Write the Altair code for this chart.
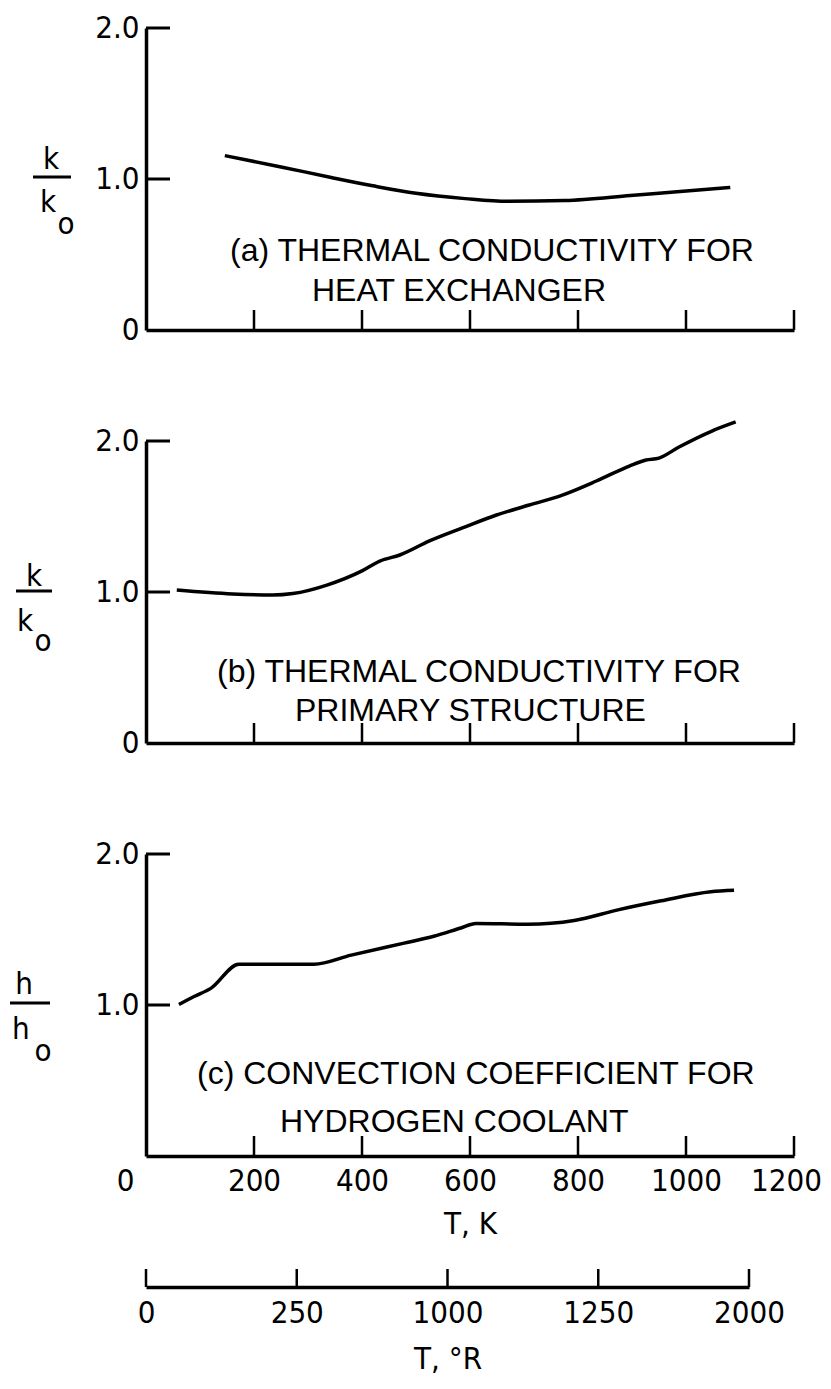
import altair as alt
import pandas as pd

# ---------------- data ----------------
a_T = [146, 250, 343, 420, 500, 591, 670, 775, 897, 989, 1082]
a_v = [1.155, 1.08, 1.01, 0.955, 0.905, 0.87, 0.852, 0.857, 0.89, 0.918, 0.944]

b_T = [57, 160, 235, 272, 335, 400, 433, 470, 525, 586, 649, 710, 771, 834,
       895, 926, 950, 987, 1048, 1092]
b_v = [1.013, 0.987, 0.98, 0.99, 1.046, 1.14, 1.205, 1.245, 1.338, 1.424, 1.51,
       1.576, 1.642, 1.735, 1.834, 1.874, 1.887, 1.96, 2.066, 2.126]

c_T = [61, 89, 120, 172, 311, 380, 478, 533, 583, 611, 707, 793, 874, 954, 1046, 1089]
c_v = [1.003, 1.056, 1.11, 1.27, 1.27, 1.33, 1.41, 1.455, 1.51, 1.54, 1.535, 1.56,
       1.63, 1.69, 1.75, 1.76]

k_ticks = [0, 200, 400, 600, 800, 1000, 1200]
y_ticks = [0, 1.0, 2.0]
r_ticks = [0, 500, 1000, 1500, 2000]
r_tick_labels = ["0", "250", "1000", "1250", "2000"]

a_lines = ["(a) THERMAL CONDUCTIVITY FOR", "HEAT EXCHANGER"]
b_lines = ["(b) THERMAL CONDUCTIVITY FOR", "PRIMARY STRUCTURE"]
c_lines = ["(c) CONVECTION COEFFICIENT FOR", "HYDROGEN COOLANT"]

# ---------------- styling ----------------
FONT = "DejaVu Sans Condensed, DejaVu Sans, sans-serif"
TFONT = "Liberation Sans, Arial, sans-serif"
LFS = 31
W, H = 648, 302
TICK = 20


def one(text):
    return pd.DataFrame({"txt": [text]})


def panel(T, v, lines, line_pos, frac, show_x, y_vals):
    xaxis_kw = dict(values=k_ticks, ticks=False, tickSize=0, domain=True,
                    labels=show_x, labelFlush=False, labelOverlap=False, format="d")
    if show_x:
        xaxis_kw.update(title="T, K", labelPadding=10, titlePadding=13,
                        labelOffset={"condition": [
                            {"test": "datum.value === 0", "value": -21},
                            {"test": "datum.value === 1200", "value": -8}],
                            "value": 0})
    else:
        xaxis_kw.update(title="")
    X = alt.X("T:Q", scale=alt.Scale(domain=[0, 1200], nice=False, zero=False),
              axis=alt.Axis(**xaxis_kw))
    Y = alt.Y("v:Q", scale=alt.Scale(domain=[0, 2], nice=False),
              axis=alt.Axis(values=y_vals, ticks=False, tickSize=0, title="",
                            labelPadding=7, labelFlush=False, labelOverlap=False,
                            labelExpr="datum.value === 0 ? '0' : format(datum.value, '.1f')"))

    df = pd.DataFrame({"T": T, "v": v})
    line = alt.Chart(df).mark_line(color="black", strokeWidth=3.5,
                                   interpolate="monotone").encode(x=X, y=Y)
    yt = alt.Chart(pd.DataFrame({"v": [1.0, 2.0]})).mark_rule(
        color="black", strokeWidth=3).encode(y=Y, x=alt.value(0), x2=alt.value(24))
    xt = alt.Chart(pd.DataFrame({"T": k_ticks[1:]})).mark_rule(
        color="black", strokeWidth=2.5).encode(x=X, y=alt.value(H), y2=alt.value(H - TICK))

    layers = [line, yt, xt]
    for text, (px, py) in zip(lines, line_pos):
        layers.append(alt.Chart(one(text)).mark_text(
            align="left", baseline="alphabetic", font=TFONT, fontSize=32,
            color="black").encode(text="txt:N", x=alt.value(px), y=alt.value(py)))

    letter, (nx, ny), (bx1, bx2, by), (dx, dy), (ox, oy) = frac
    layers.append(alt.Chart(one(letter)).mark_text(
        align="center", baseline="alphabetic", font=FONT, fontSize=31,
        color="black").encode(text="txt:N", x=alt.value(nx), y=alt.value(ny)))
    layers.append(alt.Chart(one(letter)).mark_rule(color="black", strokeWidth=3).encode(
        x=alt.value(bx1), x2=alt.value(bx2), y=alt.value(by)))
    layers.append(alt.Chart(one(letter)).mark_text(
        align="left", baseline="alphabetic", font=FONT, fontSize=31,
        color="black").encode(text="txt:N", x=alt.value(dx), y=alt.value(dy)))
    layers.append(alt.Chart(one("o")).mark_text(
        align="center", baseline="alphabetic", font=FONT, fontSize=31,
        color="black").encode(text="txt:N", x=alt.value(ox), y=alt.value(oy)))

    return alt.layer(*layers).properties(width=W, height=H)


pa = panel(a_T, a_v, a_lines, [(84, 233), (166, 273)],
           ("k", (-95, 141), (-113, -75, 149), (-106, 184), (-80, 206)),
           False, y_ticks)
pb = panel(b_T, b_v, b_lines, [(71, 241), (149, 280)],
           ("k", (-112, 145), (-130, -94, 150), (-129, 190), (-103, 210)),
           False, y_ticks)
pc = panel(c_T, c_v, c_lines, [(51, 230), (134, 278)],
           ("h", (-122, 140), (-136, -96, 149), (-134, 185), (-103, 207)),
           True, [1.0, 2.0])

# Rankine scale
expr = "datum.label"
for val, lab in reversed(list(zip(r_ticks, r_tick_labels))):
    expr = f"datum.value === {val} ? '{lab}' : ({expr})"

RX = alt.X("R:Q", scale=alt.Scale(domain=[0, 2000], nice=False, zero=False),
           axis=alt.Axis(values=r_ticks, ticks=False, tickSize=0, labelExpr=expr,
                         labelFlush=False, labelOverlap=False,
                         title="T, °R", labelPadding=11, titlePadding=16))
pr = alt.Chart(pd.DataFrame({"R": r_ticks})).mark_rule(
    color="black", strokeWidth=2.5).encode(x=RX, y=alt.value(20), y2=alt.value(2)
).properties(width=603, height=20)

chart = alt.vconcat(pa, pb, pc, pr, spacing=111, bounds="flush").properties(
    padding={"left": 0, "top": 4, "right": 0, "bottom": 0}
).configure_view(stroke=None).configure_axis(
    grid=False, domainColor="black", domainWidth=3.5,
    labelFont=FONT, labelFontSize=LFS, labelColor="black",
    titleFont=FONT, titleFontSize=LFS, titleColor="black", titleFontWeight="normal"
)

chart.save("out.html", embed_options={"renderer": "svg", "actions": False})
